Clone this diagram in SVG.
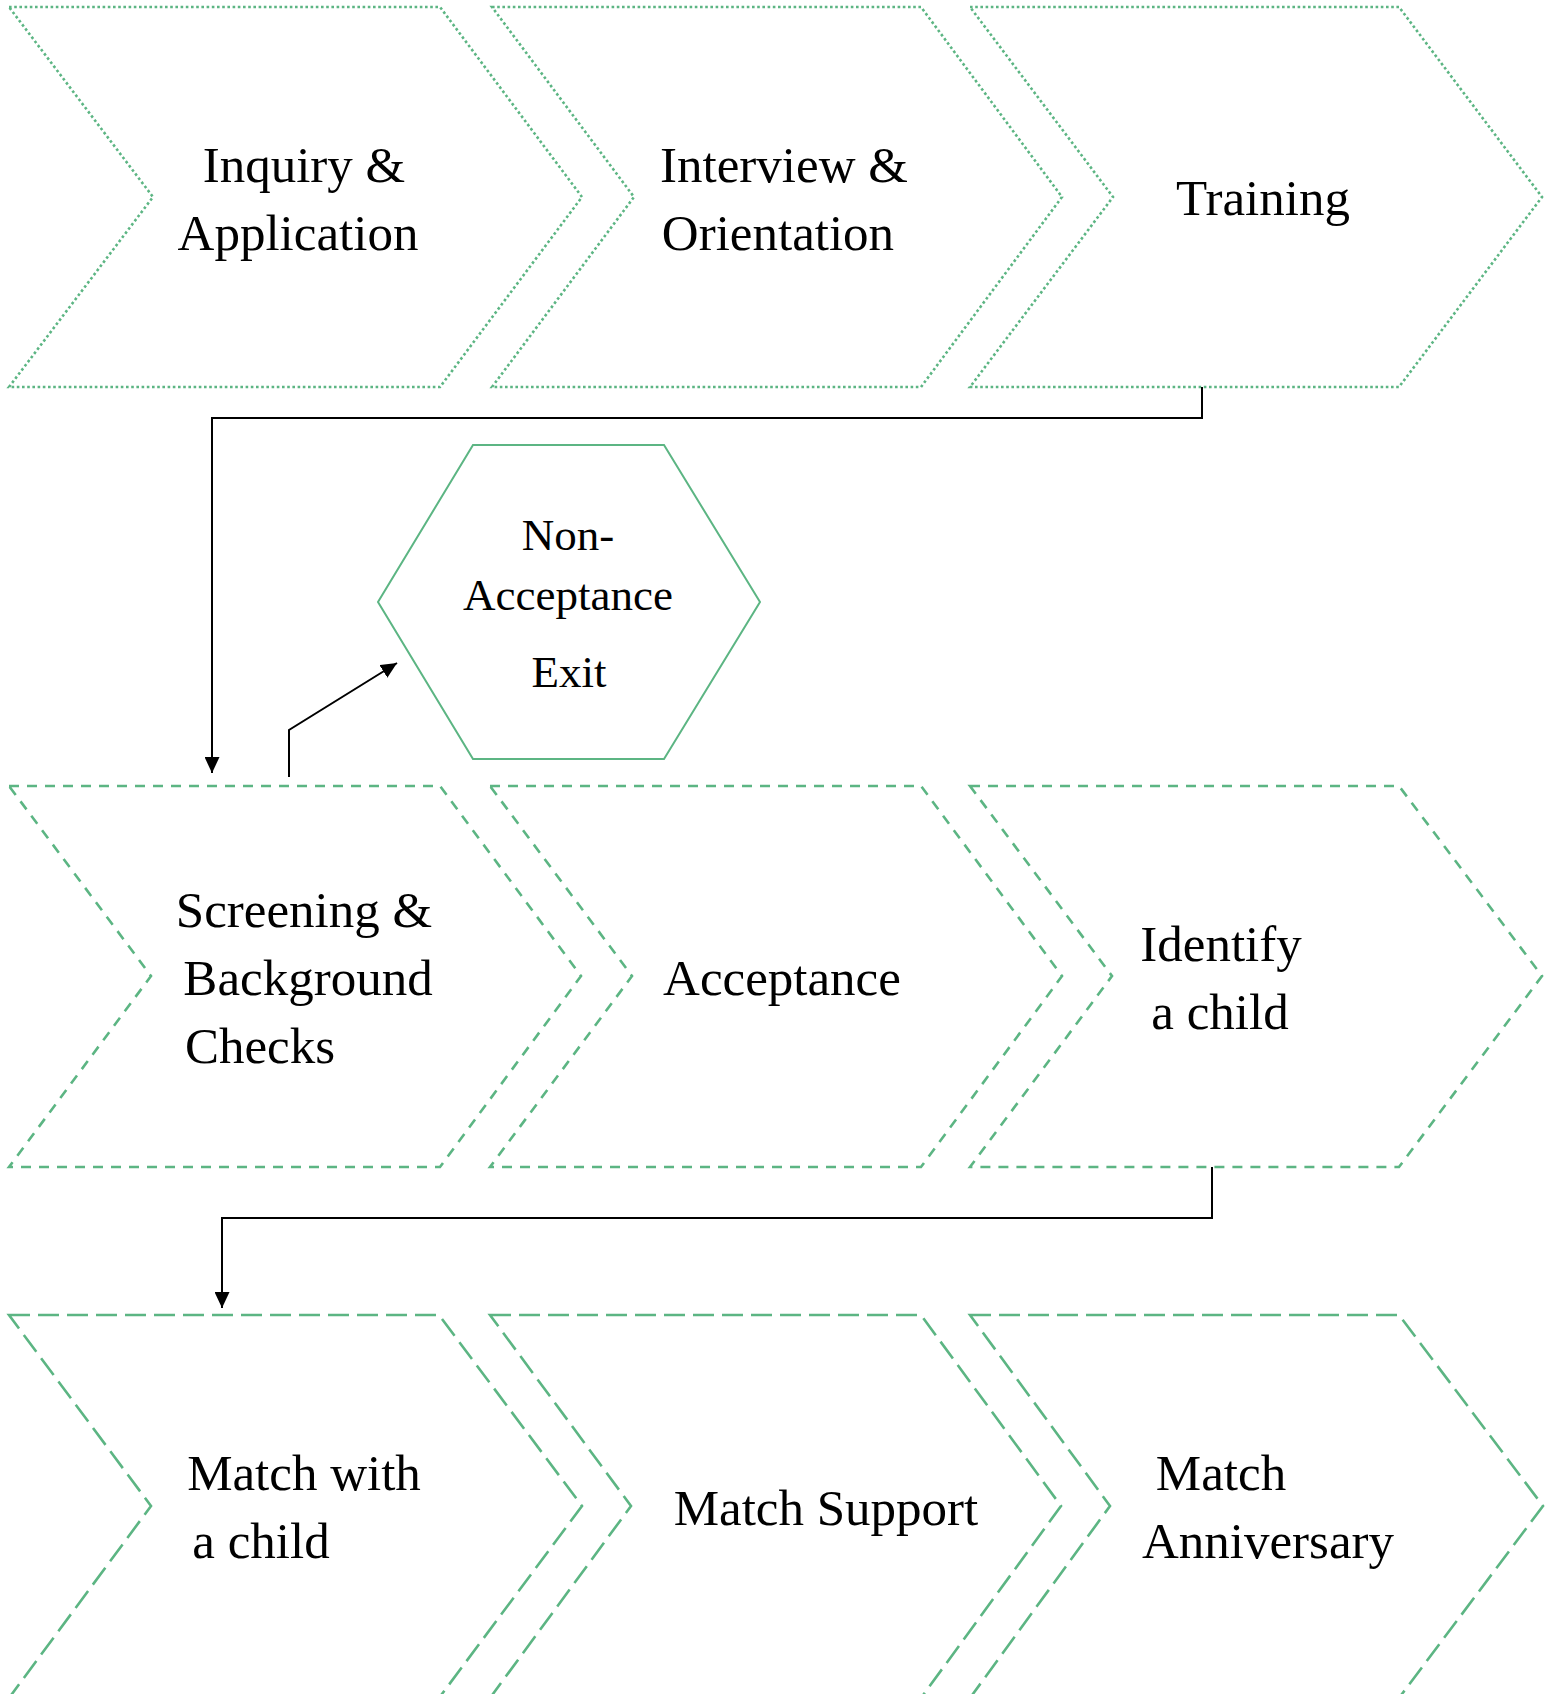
<svg xmlns="http://www.w3.org/2000/svg" width="1554" height="1694" viewBox="0 0 1554 1694">
<defs>
<style>
.dot{fill:none;stroke:#5cb583;stroke-width:2.6;stroke-dasharray:2.6 2.6}
.dash{fill:none;stroke:#5cb583;stroke-width:2.6;stroke-dasharray:10 8}
.ldash{fill:none;stroke:#5cb583;stroke-width:2.6;stroke-dasharray:21 8}
.hex{fill:none;stroke:#5cb583;stroke-width:2}
.conn{fill:none;stroke:#000;stroke-width:2}
.t{font-family:"Liberation Serif",serif;font-size:51px;fill:#000;text-anchor:middle}
.ts{font-family:"Liberation Serif",serif;font-size:45px;fill:#000;text-anchor:middle}
</style>
<marker id="arr" markerUnits="userSpaceOnUse" markerWidth="17" markerHeight="15" refX="16" refY="7.5" orient="auto">
<path d="M0 0 L16 7.5 L0 15 Z" fill="#000"/>
</marker>
</defs>
<rect width="1554" height="1694" fill="#fff"/>

<g id="inquiry">
<path class="dot" d="M9 7 L440 7 L582 197 L440 387 L9 387 L153 197 Z"/>
<text class="t" x="304" y="182">Inquiry &amp;</text>
<text class="t" x="298" y="250">Application</text>
</g>
<g id="interview">
<path class="dot" d="M492 7 L921 7 L1062 197 L921 387 L492 387 L634 197 Z"/>
<text class="t" x="784" y="182">Interview &amp;</text>
<text class="t" x="778" y="250">Orientation</text>
</g>
<g id="training">
<path class="dot" d="M970 7 L1399 7 L1542 197 L1399 387 L970 387 L1113 197 Z"/>
<text class="t" x="1263" y="215">Training</text>
</g>

<g id="non-acceptance">
<path class="hex" d="M473 445 L664 445 L760 602 L664 759 L473 759 L378 602 Z"/>
<text class="ts" x="568" y="550">Non-</text>
<text class="ts" x="568" y="610">Acceptance</text>
<text class="ts" x="569" y="687">Exit</text>
</g>

<g id="screening">
<path class="dash" d="M9 786 L440 786 L581 976 L440 1167 L9 1167 L151 976 Z"/>
<text class="t" x="304" y="927">Screening &amp;</text>
<text class="t" x="308" y="995">Background</text>
<text class="t" x="260" y="1063">Checks</text>
</g>
<g id="acceptance">
<path class="dash" d="M490 786 L921 786 L1062 976 L921 1167 L490 1167 L632 976 Z"/>
<text class="t" x="782" y="995">Acceptance</text>
</g>
<g id="identify">
<path class="dash" d="M970 786 L1399 786 L1542 976 L1399 1167 L970 1167 L1112 976 Z"/>
<text class="t" x="1221" y="961">Identify</text>
<text class="t" x="1220" y="1029">a child</text>
</g>

<g id="match-with">
<path class="ldash" d="M9 1315 L439 1315 L582 1506 L439 1698 L9 1698 L151 1506 Z"/>
<text class="t" x="304" y="1490">Match with</text>
<text class="t" x="261" y="1558">a child</text>
</g>
<g id="match-support">
<path class="ldash" d="M490 1315 L921 1315 L1061 1506 L921 1698 L490 1698 L631 1506 Z"/>
<text class="t" x="826" y="1525">Match Support</text>
</g>
<g id="match-anniversary">
<path class="ldash" d="M970 1315 L1399 1315 L1543 1506 L1399 1698 L970 1698 L1110 1506 Z"/>
<text class="t" x="1221" y="1490">Match</text>
<text class="t" x="1268" y="1558">Anniversary</text>
</g>

<g id="connectors">
<path class="conn" d="M1202 387 V418 H212 V773" marker-end="url(#arr)"/>
<path class="conn" d="M289 777 V730 L397 663" marker-end="url(#arr)"/>
<path class="conn" d="M1212 1167 V1218 H222 V1308" marker-end="url(#arr)"/>
</g>
</svg>
